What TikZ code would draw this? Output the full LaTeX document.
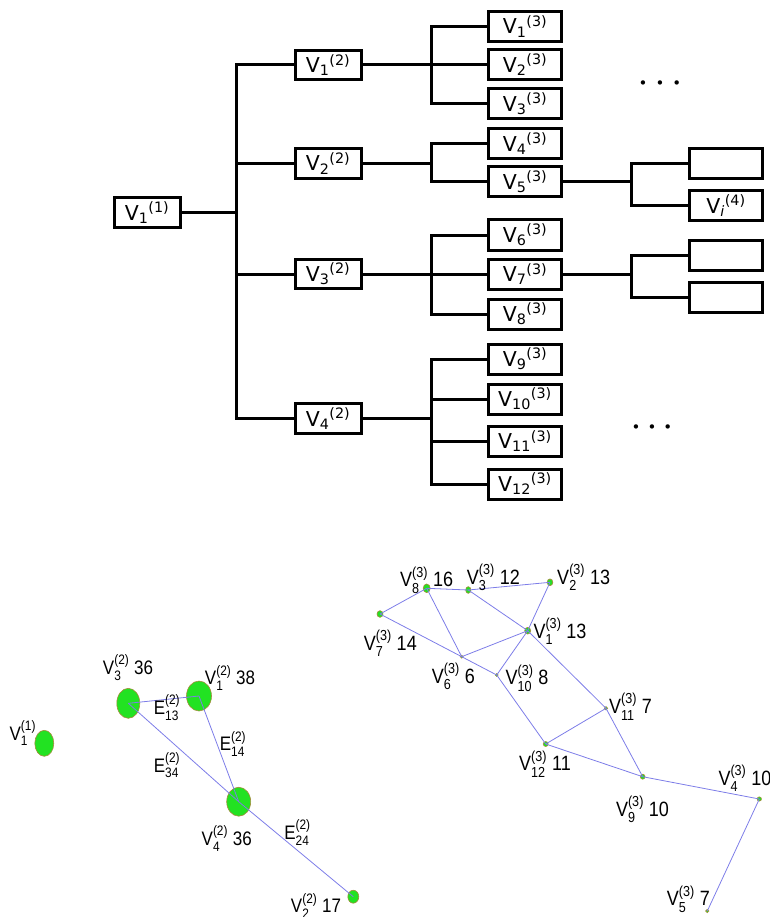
\documentclass[tikz,border=0pt]{standalone}
\usepackage{fontspec}
\usepackage{amsmath}
\setmainfont{Liberation Sans}
\newfontfamily\treefont{DejaVu Sans}
\usetikzlibrary{shapes.geometric}

\definecolor{vgreen}{RGB}{34,226,34}
\definecolor{vrim}{RGB}{165,140,60}
\definecolor{elink}{RGB}{125,125,232}

\newcommand\vlab[3]{\scalebox{1}[1.15]{V$^{\text{#1}}_{\text{#2}}$\if\relax\detokenize{#3}\relax\else\ #3\fi}}
\newcommand\elab[2]{\scalebox{1}[1.15]{E$^{\text{#1}}_{\text{#2}}$}}

\tikzset{
	tree/.style={line width=3pt},
	box/.style={draw, line width=3pt, inner sep=0pt, minimum width=66pt, minimum height=29.5pt,
		font=\treefont\fontsize{20.5}{24}\selectfont},
	wbox/.style={box, minimum width=73.7pt, minimum height=30pt},
	vert/.style={ellipse, draw=vrim, fill=vgreen, line width=0.6pt, inner sep=0pt},
	link/.style={draw=elink, line width=0.8pt},
	labl/.style={inner sep=0pt, font=\fontsize{17}{20}\selectfont},
	labr/.style={inner sep=0pt, font=\fontsize{18}{21}\selectfont},
	dots/.style={inner sep=0pt, font=\treefont\fontsize{15}{18}\selectfont}
}

\begin{document}
\begin{tikzpicture}[x=1pt,y=-1pt]
	\useasboundingbox (0,0) rectangle (769,917);

	% hierarchy
	\node[box] (r) at (147,212.5) {V\textsubscript{1}\textsuperscript{(1)}};
	\node[box] (a1) at (328,65) {V\textsubscript{1}\textsuperscript{(2)}};
	\node[box] (a2) at (328,163.5) {V\textsubscript{2}\textsuperscript{(2)}};
	\node[box] (a3) at (328,274) {V\textsubscript{3}\textsuperscript{(2)}};
	\node[box] (a4) at (328,418.7) {V\textsubscript{4}\textsuperscript{(2)}};

	\node[wbox] (b1) at (525,26.3) {V\textsubscript{1}\textsuperscript{(3)}};
	\node[wbox] (b2) at (525,65) {V\textsubscript{2}\textsuperscript{(3)}};
	\node[wbox] (b3) at (525,104) {V\textsubscript{3}\textsuperscript{(3)}};
	\node[wbox] (b4) at (525,143.7) {V\textsubscript{4}\textsuperscript{(3)}};
	\node[wbox] (b5) at (525,182) {V\textsubscript{5}\textsuperscript{(3)}};
	\node[wbox] (b6) at (525,235) {V\textsubscript{6}\textsuperscript{(3)}};
	\node[wbox] (b7) at (525,274) {V\textsubscript{7}\textsuperscript{(3)}};
	\node[wbox] (b8) at (525,314) {V\textsubscript{8}\textsuperscript{(3)}};
	\node[wbox] (b9) at (525,359) {V\textsubscript{9}\textsuperscript{(3)}};
	\node[wbox] (b10) at (525,399) {V\textsubscript{10}\textsuperscript{(3)}};
	\node[wbox] (b11) at (525,441) {V\textsubscript{11}\textsuperscript{(3)}};
	\node[wbox] (b12) at (525,484) {V\textsubscript{12}\textsuperscript{(3)}};

	\node[wbox] (c1) at (726,163.3) {};
	\node[wbox] (c2) at (726,205.7) {V\textsubscript{\textit{i}}\textsuperscript{(4)}};
	\node[wbox] (c3) at (726,255) {};
	\node[wbox] (c4) at (726,297.5) {};

	\node[dots] (dt1) at (660,85) {\textbullet\hspace{8pt}\textbullet\hspace{8pt}\textbullet};
	\node[dots] (dt2) at (652,429) {\textbullet\hspace{7pt}\textbullet\hspace{7pt}\textbullet};

	\coordinate (t1) at (236.7,212.5);
	\coordinate (t2) at (431,65);
	\coordinate (t3) at (431,163.5);
	\coordinate (t4) at (431,274);
	\coordinate (t5) at (431,418.7);
	\coordinate (t6) at (631,182);
	\coordinate (t7) at (631,274);

	\draw[tree] (r.east) -- (t1);
	\draw[tree] (t1) |- (a1.west);
	\draw[tree] (t1) |- (a2.west);
	\draw[tree] (t1) |- (a3.west);
	\draw[tree] (t1) |- (a4.west);

	\draw[tree] (a1.east) -- (t2);
	\draw[tree] (t2) |- (b1.west);
	\draw[tree] (t2) |- (b2.west);
	\draw[tree] (t2) |- (b3.west);
	\draw[tree] (a2.east) -- (t3);
	\draw[tree] (t3) |- (b4.west);
	\draw[tree] (t3) |- (b5.west);
	\draw[tree] (a3.east) -- (t4);
	\draw[tree] (t4) |- (b6.west);
	\draw[tree] (t4) |- (b7.west);
	\draw[tree] (t4) |- (b8.west);
	\draw[tree] (a4.east) -- (t5);
	\draw[tree] (t5) |- (b9.west);
	\draw[tree] (t5) |- (b10.west);
	\draw[tree] (t5) |- (b11.west);
	\draw[tree] (t5) |- (b12.west);

	\draw[tree] (b5.east) -- (t6);
	\draw[tree] (t6) |- (c1.west);
	\draw[tree] (t6) |- (c2.west);
	\draw[tree] (b7.east) -- (t7);
	\draw[tree] (t7) |- (c3.west);
	\draw[tree] (t7) |- (c4.west);

	% level 2 graph
	\node[vert, minimum width=19pt, minimum height=26pt] (w0) at (44.3,743.3) {};
	\node[vert, minimum width=23pt, minimum height=30pt] (w3) at (128.3,703.3) {};
	\node[vert, minimum width=25pt, minimum height=30pt] (w1) at (199,696) {};
	\node[vert, minimum width=24pt, minimum height=29pt] (w4) at (238.7,801.7) {};
	\node[vert, minimum width=11pt, minimum height=13pt] (w2) at (353.3,896.7) {};

	\draw[link] (w3.center) -- (w1.center);
	\draw[link] (w1.center) -- (w4.center);
	\draw[link] (w3.center) -- (w4.center);
	\draw[link] (w4.center) -- (w2.center);

	\node[labl] (lw0) at (22.8,733.3) {\vlab{(1)}{1}{}};
	\node[labl] (lw3) at (128,667.5) {\vlab{(2)}{3}{36}};
	\node[labl] (lw1) at (230,678) {\vlab{(2)}{1}{38}};
	\node[labl] (lw4) at (226.7,838.5) {\vlab{(2)}{4}{36}};
	\node[labl] (lw2) at (316,906) {\vlab{(2)}{2}{17}};
	\node[labl] (le13) at (167,707.5) {\elab{(2)}{13}};
	\node[labl] (le14) at (233,744) {\elab{(2)}{14}};
	\node[labl] (le34) at (167,765.3) {\elab{(2)}{34}};
	\node[labl] (le24) at (297.5,832.5) {\elab{(2)}{24}};

	% level 3 graph
	\node[vert, minimum width=7pt, minimum height=8.7pt] (u8) at (426.7,588.3) {};
	\node[vert, minimum width=5.3pt, minimum height=6.7pt] (u3) at (468.3,590) {};
	\node[vert, minimum width=5.7pt, minimum height=6.7pt] (u2) at (550,582.3) {};
	\node[vert, minimum width=6pt, minimum height=6.7pt] (u7) at (380,614) {};
	\node[vert, minimum width=6pt, minimum height=6.7pt] (u1) at (527.7,630.7) {};
	\node[vert, minimum width=3pt, minimum height=3pt] (u6) at (461.7,656.7) {};
	\node[vert, minimum width=3pt, minimum height=3pt] (u10) at (496.7,675) {};
	\node[vert, minimum width=3.5pt, minimum height=3.5pt] (u11) at (606,708.3) {};
	\node[vert, minimum width=5pt, minimum height=5pt] (u12) at (545.7,744) {};
	\node[vert, minimum width=4.7pt, minimum height=5pt] (u9) at (642.7,776.7) {};
	\node[vert, minimum width=4.3pt, minimum height=4.3pt] (u4) at (759.3,799) {};
	\node[vert, minimum width=3.3pt, minimum height=3.3pt] (u5) at (707.3,911) {};

	\draw[link] (u8.center) -- (u3.center);
	\draw[link] (u3.center) -- (u2.center);
	\draw[link] (u8.center) -- (u7.center);
	\draw[link] (u7.center) -- (u6.center);
	\draw[link] (u6.center) -- (u10.center);
	\draw[link] (u8.center) -- (u6.center);
	\draw[link] (u6.center) -- (u1.center);
	\draw[link] (u3.center) -- (u1.center);
	\draw[link] (u2.center) -- (u1.center);
	\draw[link] (u1.center) -- (u10.center);
	\draw[link] (u1.center) -- (u11.center);
	\draw[link] (u10.center) -- (u12.center);
	\draw[link] (u12.center) -- (u11.center);
	\draw[link] (u11.center) -- (u9.center);
	\draw[link] (u12.center) -- (u9.center);
	\draw[link] (u9.center) -- (u4.center);
	\draw[link] (u4.center) -- (u5.center);

	\node[labr] (lu8) at (426.7,580) {\vlab{(3)}{8}{16}};
	\node[labr] (lu3) at (493.3,577.5) {\vlab{(3)}{3}{12}};
	\node[labr] (lu2) at (583.7,577.5) {\vlab{(3)}{2}{13}};
	\node[labr] (lu7) at (390.3,643.3) {\vlab{(3)}{7}{14}};
	\node[labr] (lu1) at (560,631.3) {\vlab{(3)}{1}{13}};
	\node[labr] (lu6) at (453.3,676.3) {\vlab{(3)}{6}{6}};
	\node[labr] (lu10) at (527,678) {\vlab{(3)}{10}{8}};
	\node[labr] (lu11) at (630.5,706.7) {\vlab{(3)}{11}{7}};
	\node[labr] (lu12) at (545,764) {\vlab{(3)}{12}{11}};
	\node[labr] (lu9) at (642.5,809.2) {\vlab{(3)}{9}{10}};
	\node[labr, anchor=west] (lu4) at (718.3,778) {\vlab{(3)}{4}{10}};
	\node[labr] (lu5) at (688.3,899) {\vlab{(3)}{5}{7}};
\end{tikzpicture}
\end{document}
